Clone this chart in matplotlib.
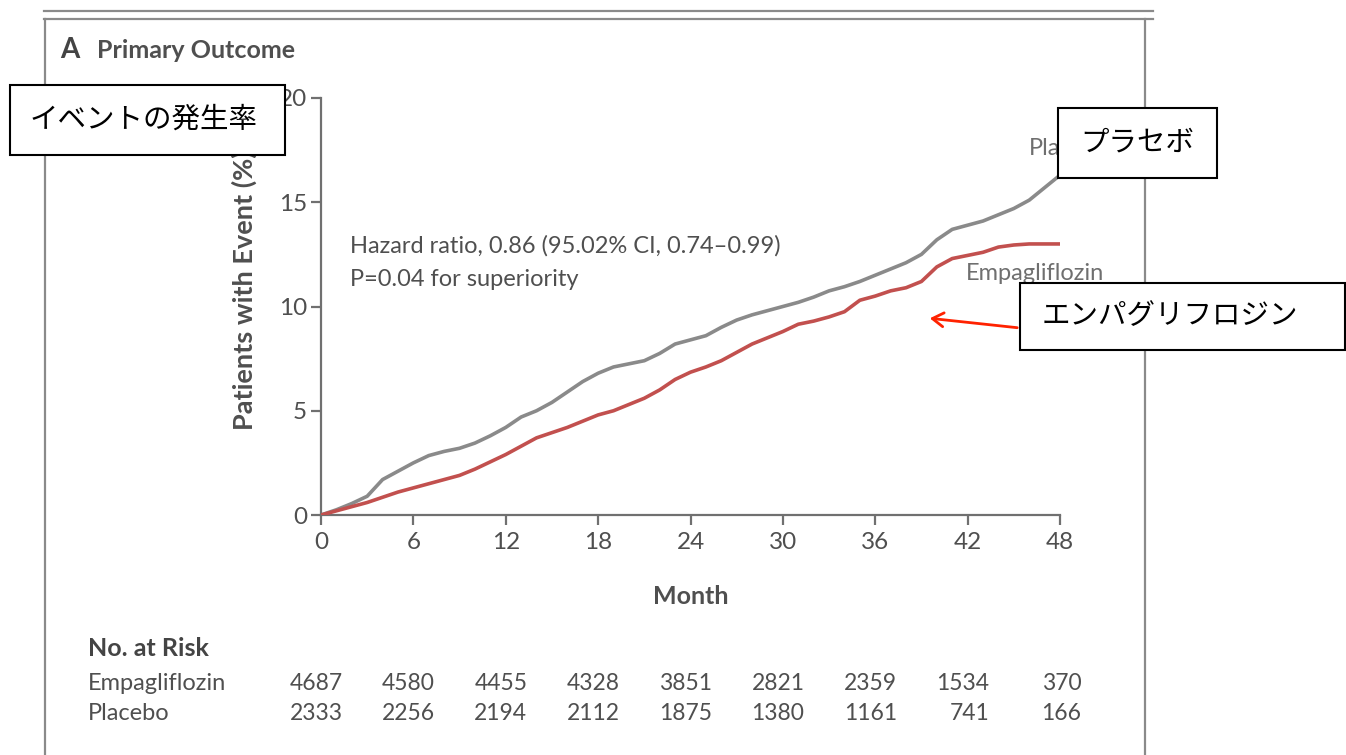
import numpy as np
import matplotlib
matplotlib.use('Agg')
import matplotlib.pyplot as plt
import matplotlib.patches as mpatches

# cumulative incidence (%), one value per month
months = np.arange(0, 49)
placebo = [0, 0.25, 0.55, 0.9, 1.7, 2.1, 2.5, 2.85, 3.05, 3.2,
           3.45, 3.8, 4.2, 4.7, 5.0, 5.4, 5.9, 6.4, 6.8, 7.1,
           7.25, 7.4, 7.75, 8.2, 8.4, 8.6, 9.0, 9.35, 9.6, 9.8,
           10.0, 10.2, 10.45, 10.75, 10.95, 11.2, 11.5, 11.8, 12.1, 12.5,
           13.2, 13.7, 13.9, 14.1, 14.4, 14.7, 15.1, 15.7, 16.3]
empa = [0, 0.2, 0.4, 0.6, 0.85, 1.1, 1.3, 1.5, 1.7, 1.9,
        2.2, 2.55, 2.9, 3.3, 3.7, 3.95, 4.2, 4.5, 4.8, 5.0,
        5.3, 5.6, 6.0, 6.5, 6.85, 7.1, 7.4, 7.8, 8.2, 8.5,
        8.8, 9.15, 9.3, 9.5, 9.75, 10.3, 10.5, 10.75, 10.9, 11.2,
        11.9, 12.3, 12.45, 12.6, 12.85, 12.95, 13.0, 13.0, 13.0]

risk_months = [0, 6, 12, 18, 24, 30, 36, 42, 48]
risk_empa = [4687, 4580, 4455, 4328, 3851, 2821, 2359, 1534, 370]
risk_placebo = [2333, 2256, 2194, 2112, 1875, 1380, 1161, 741, 166]

W, H = 1346, 755
GRAY_TXT = '#4f4f4f'
GRAY_LINE = '#8a8a8a'
RED = '#c2504e'
JP = ['Noto Sans CJK JP', 'DejaVu Sans']

plt.rcParams['font.family'] = ['Lato', 'DejaVu Sans']


def fx(px):
    return px / W


def fy(py):
    return 1 - py / H


fig = plt.figure(figsize=(W / 100, H / 100), dpi=100)
ax = fig.add_axes([fx(321), fy(515), fx(1060) - fx(321), fy(98) - fy(515)])

ax.plot(months, placebo, color=GRAY_LINE, lw=2.6, zorder=3)
ax.plot(months, empa, color=RED, lw=2.6, zorder=4)

ax.set_xlim(0, 48)
ax.set_ylim(0, 20)
ax.set_xticks(risk_months)
ax.set_yticks([0, 5, 10, 15, 20])
for s in ['top', 'right']:
    ax.spines[s].set_visible(False)
for s in ['left', 'bottom']:
    ax.spines[s].set_color('#707070')
    ax.spines[s].set_linewidth(1.6)
ax.tick_params(axis='both', direction='out', length=7, width=1.6,
               color='#707070', labelcolor=GRAY_TXT, labelsize=17.5)
ax.tick_params(axis='x', pad=5)
ax.tick_params(axis='y', pad=3)
ax.patch.set_alpha(0)

ax.text(1.9, 12.9, 'Hazard ratio, 0.86 (95.02% CI, 0.74\u20130.99)',
        fontsize=17, color=GRAY_TXT, va='center')
ax.text(1.9, 11.3, 'P=0.04 for superiority',
        fontsize=17, color=GRAY_TXT, va='center')
ax.text(46.0, 17.6, 'Placebo', fontsize=17, color='#6f6f6f', va='center')
ax.text(41.9, 11.6, 'Empagliflozin', fontsize=17, color='#6f6f6f', va='center')

# number at risk rows
for m, a, b in zip(risk_months, risk_empa, risk_placebo):
    ax.annotate(str(a), xy=(m, fy(684)), xycoords=('data', 'figure fraction'),
                xytext=(15.5, 0), textcoords='offset points',
                ha='right', va='center', fontsize=16.5, color=GRAY_TXT,
                annotation_clip=False)
    ax.annotate(str(b), xy=(m, fy(714)), xycoords=('data', 'figure fraction'),
                xytext=(15.5, 0), textcoords='offset points',
                ha='right', va='center', fontsize=16.5, color=GRAY_TXT,
                annotation_clip=False)

fig.text(fx(60), fy(50), 'A', fontsize=20, weight='bold', color='#444444', va='center')
fig.text(fx(97), fy(50), 'Primary Outcome', fontsize=18, weight='bold',
         color='#4f4f4f', va='center')
fig.text(fx(691), fy(596), 'Month', fontsize=18, weight='bold', color=GRAY_TXT,
         ha='center', va='center')
fig.text(fx(244), fy(290), 'Patients with Event (%)', fontsize=19.5, weight='bold',
         color=GRAY_TXT, ha='center', va='center', rotation=90)
fig.text(fx(88), fy(648), 'No. at Risk', fontsize=18, weight='bold', color='#444444',
         va='center')
fig.text(fx(88), fy(684), 'Empagliflozin', fontsize=17, color=GRAY_TXT, va='center')
fig.text(fx(88), fy(714), 'Placebo', fontsize=17, color=GRAY_TXT, va='center')

# panel frame
for y in (11, 19):
    fig.add_artist(plt.Line2D([fx(44), fx(1153)], [fy(y), fy(y)], color=GRAY_LINE, lw=1.6))
fig.add_artist(plt.Line2D([fx(45), fx(45)], [fy(19), fy(755)], color=GRAY_LINE, lw=1.6))
fig.add_artist(plt.Line2D([fx(1145), fx(1145)], [fy(19), fy(755)], color=GRAY_LINE, lw=1.6))

# Japanese callout boxes
boxes = [(10, 85, 285, 155, 'イベントの発生率', 30),
         (1058, 108, 1217, 178, 'プラセボ', 1080),
         (1020, 283, 1345, 350, 'エンパグリフロジン', 1042)]
for x0, y0, x1, y1, label, tx in boxes:
    rect = mpatches.Rectangle((fx(x0), fy(y1)), fx(x1) - fx(x0), fy(y0) - fy(y1),
                              transform=fig.transFigure, facecolor='white',
                              edgecolor='black', lw=1.5, zorder=5)
    fig.add_artist(rect)
    fig.text(fx(tx), fy((y0 + y1) / 2), label, fontsize=20.5, family=JP,
             color='black', va='center', zorder=6)

arrow = mpatches.FancyArrowPatch((fx(1020), fy(328)), (fx(927), fy(318)),
                                 transform=fig.transFigure,
                                 arrowstyle='->,head_length=8,head_width=5',
                                 color='#ff2200', lw=2, zorder=6)
fig.add_artist(arrow)

fig.savefig('out.png', dpi=100, facecolor='white')
